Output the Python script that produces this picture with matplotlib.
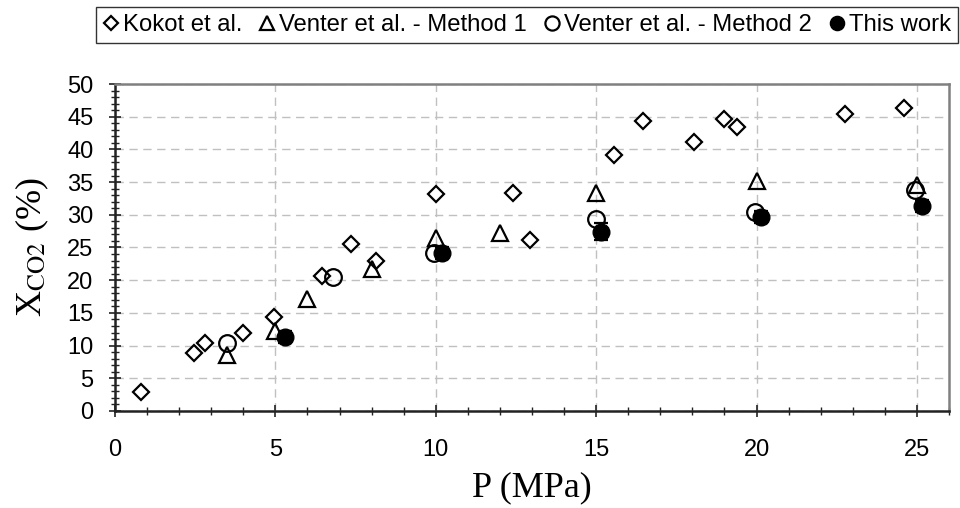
import numpy as np
import matplotlib
matplotlib.use('Agg')
import matplotlib.pyplot as plt
from matplotlib.ticker import MultipleLocator

plt.rcParams['font.family'] = ['Liberation Sans', 'DejaVu Sans']
plt.rcParams['mathtext.fontset'] = 'stix'

# Kokot et al.
kokot_p = [0.8, 2.45, 2.8, 4.0, 4.97, 6.45, 7.35, 8.15, 10.0, 12.4, 12.95, 15.55, 16.45, 18.05, 19.0, 19.4, 22.75, 24.6]
kokot_x = [2.9, 8.8, 10.4, 12.0, 14.4, 20.7, 25.5, 22.9, 33.2, 33.3, 26.1, 39.2, 44.3, 41.1, 44.7, 43.4, 45.4, 46.3]
# Venter et al. - Method 1
v1_p = [3.5, 5.0, 6.0, 8.0, 10.0, 12.0, 15.0, 20.0, 25.0]
v1_x = [8.6, 12.3, 17.1, 21.7, 26.4, 27.2, 33.3, 35.2, 34.6]
# Venter et al. - Method 2
v2_p = [3.5, 6.8, 9.95, 15.0, 19.95, 24.95]
v2_x = [10.4, 20.5, 24.1, 29.3, 30.4, 33.8]
# This work
tw_p = [5.3, 10.2, 15.15, 20.15, 25.15]
tw_x = [11.3, 24.1, 27.4, 29.7, 31.4]
tw_err = [0.9, 0.9, 1.3, 0.9, 0.9]

fig = plt.figure(figsize=(9.6, 5.08), dpi=100)
ax = fig.add_axes([0.1198, 0.191, 0.8687, 0.6436])

lw = 1.6
ax.plot(kokot_p, kokot_x, 'D', ms=7.8, mfc='white', mec='black', mew=lw, label='Kokot et al.', zorder=3)
ax.plot(v1_p, v1_x, '^', ms=12, mfc='none', mec='black', mew=lw, label='Venter et al. - Method 1', zorder=3)
ax.plot(v2_p, v2_x, 'o', ms=12, mfc='none', mec='black', mew=lw, label='Venter et al. - Method 2', zorder=3)
ax.errorbar(tw_p, tw_x, yerr=tw_err, fmt='o', ms=12, mfc='black', mec='black', ecolor='black',
            elinewidth=lw, capsize=5, capthick=lw, label='This work', zorder=4)

ax.set_xlim(0, 26)
ax.set_ylim(0, 50)
ax.xaxis.set_major_locator(MultipleLocator(5))
ax.xaxis.set_minor_locator(MultipleLocator(1))
ax.yaxis.set_major_locator(MultipleLocator(5))
ax.yaxis.set_minor_locator(MultipleLocator(1))
ax.tick_params(which='both', direction='inout', labelsize=17, color='#222222')
ax.tick_params(which='major', length=9, width=1.2)
ax.tick_params(which='minor', length=6, width=1.0)
ax.tick_params(axis='x', pad=16)
ax.tick_params(axis='y', pad=11)
ax.grid(which='major', linestyle=(0, (6, 4)), color='#c0c0c0', linewidth=1.0)
ax.set_axisbelow(True)

for s in ['left', 'bottom']:
    ax.spines[s].set_color('#222222')
    ax.spines[s].set_linewidth(1.8)
for s in ['top', 'right']:
    ax.spines[s].set_color('#808080')
    ax.spines[s].set_linewidth(1.8)

ax.set_xlabel('P (MPa)', family='Liberation Serif', fontsize=26, labelpad=7)
ax.set_ylabel(r'X$_{\mathrm{CO2}}$ (%)', family='Liberation Serif', fontsize=26, labelpad=12)

# handles without the error bar so the legend shows a plain dot
handles, labels = ax.get_legend_handles_labels()
handles[-1] = handles[-1][0]
leg = fig.legend(handles, labels, loc='upper right', bbox_to_anchor=(0.998, 0.986), ncol=4, fontsize=17.2,
                 frameon=True, fancybox=False, edgecolor='black', handlelength=0.6,
                 handletextpad=0.2, columnspacing=0.75, markerscale=0.85, borderpad=0.3,
                 borderaxespad=0)
leg.get_frame().set_linewidth(1.0)

fig.savefig('out.png', dpi=100)
